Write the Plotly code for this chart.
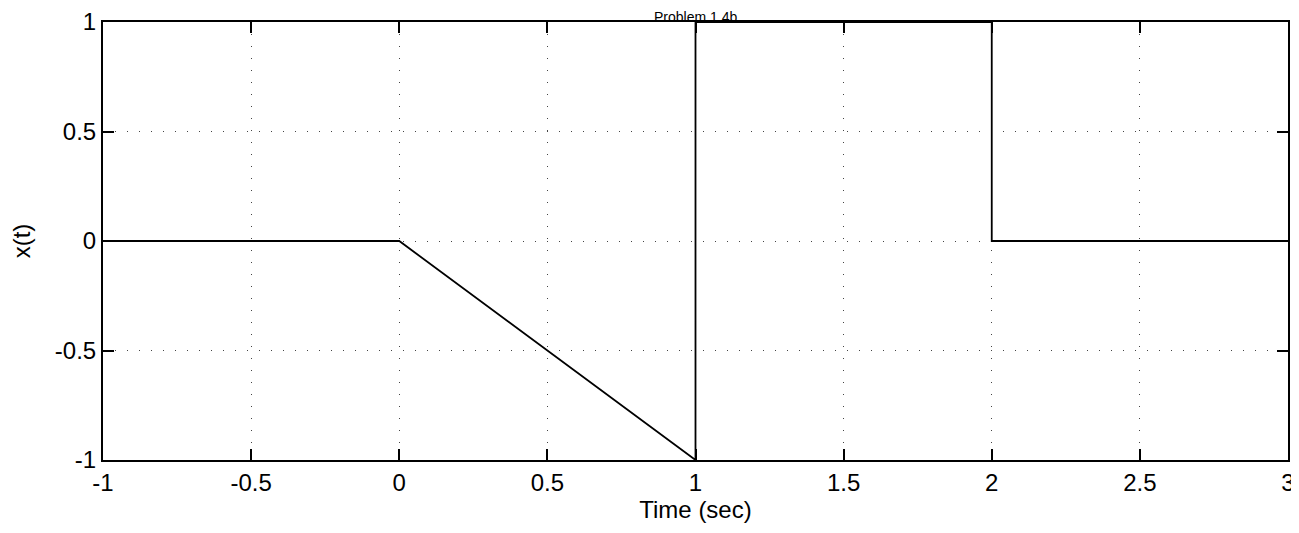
import plotly.graph_objects as go

# signal x(t) for Problem 1.4b
t_vals = [-1.0, 0.0, 1.0, 1.0, 2.0, 2.0, 3.0]
x_vals = [0.0, 0.0, -1.0, 1.0, 1.0, 0.0, 0.0]

x_ticks = [-1, -0.5, 0, 0.5, 1, 1.5, 2, 2.5, 3]
x_tick_text = ["-1", "-0.5", "0", "0.5", "1", "1.5", "2", "2.5", "3"]
y_ticks = [-1, -0.5, 0, 0.5, 1]
y_tick_text = ["-1", "-0.5", "0", "0.5", "1"]

title_text = "Problem 1.4b"
x_label = "Time (sec)"
y_label = "x(t)"

font_family = "Liberation Sans, Arial, sans-serif"

fig = go.Figure()
fig.add_trace(go.Scatter(x=t_vals, y=x_vals, mode="lines",
                         line=dict(color="black", width=1.8),
                         showlegend=False, hoverinfo="skip"))

axis_common = dict(
    showline=True, linecolor="black", linewidth=2, mirror="ticks",
    ticks="inside", ticklen=11, tickwidth=1.5, tickcolor="black",
    showgrid=True, gridcolor="#444444", gridwidth=1, griddash="1px,11px",
    zeroline=False, automargin=False, ticklabeloverflow="allow",
    tickfont=dict(family=font_family, size=24, color="black"),
)

fig.update_xaxes(range=[-1, 3], tickvals=x_ticks, ticktext=x_tick_text,
                 title=dict(text=x_label, font=dict(family=font_family, size=24, color="black"),
                            standoff=4),
                 **axis_common)
fig.update_yaxes(range=[-1, 1], tickvals=y_ticks, ticktext=y_tick_text,
                 title=dict(text=y_label, font=dict(family=font_family, size=24, color="black"),
                            standoff=18),
                 **axis_common)

fig.add_annotation(text=title_text, x=0.5, y=1, xref="paper", yref="paper",
                   xanchor="center", yanchor="top", yshift=14, showarrow=False,
                   borderpad=0,
                   font=dict(family=font_family, size=14, color="black"))

fig.update_layout(
    width=1291, height=517,
    margin=dict(l=95, r=11, t=14, b=65),
    paper_bgcolor="white", plot_bgcolor="white",
    font=dict(family=font_family, color="black"),
)

fig.write_html("out.html")
